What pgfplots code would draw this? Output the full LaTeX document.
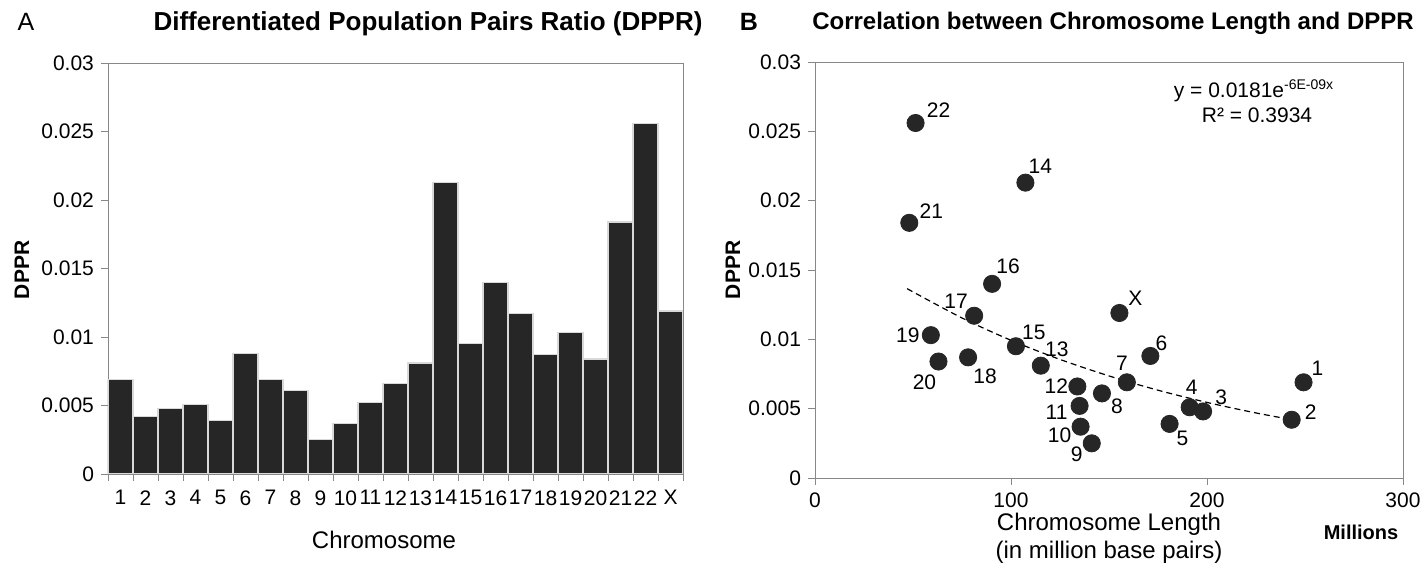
\documentclass[border=0pt]{standalone}
\usepackage{pgfplots}
\pgfplotsset{compat=1.18}
\usepackage{fontspec}
\setmainfont{Liberation Sans}
\definecolor{barfill}{HTML}{262626}
\definecolor{axgray}{HTML}{888888}
\newcommand{\tfont}{\fontsize{10.5}{12}\selectfont}
\begin{document}
\begin{tikzpicture}
\path[use as bounding box] (0,0) rectangle (712pt,282.5pt);
% ---------------- Panel A ----------------
\begin{axis}[
  at={(54pt,45.5pt)}, anchor=south west,
  width=287.5pt, height=205.5pt, scale only axis,
  xmin=0.5, xmax=23.5, ymin=0, ymax=0.03,
  xtick={1,...,23},
  xticklabels={1,2,3,4,5,6,7,8,9,10,11,12,13,14,15,16,17,18,19,20,21,22,X},
  minor xtick={0.5,1.5,...,23.5},
  major x tick style={draw=none},
  ytick={0,0.005,0.01,0.015,0.02,0.025,0.03},
  yticklabels={0,0.005,0.01,0.015,0.02,0.025,0.03},
  xtick pos=bottom, ytick pos=left,
  tick align=outside,
  major tick length=3.5pt, minor tick length=3.5pt,
  axis line style={draw=axgray},
  tick style={draw=axgray},
  minor tick style={draw=axgray},
  tick label style={font=\tfont, text=black},
  xticklabel style={inner sep=0pt, yshift=-4.5pt},
  scaled y ticks=false,
  ybar, bar width=12.5pt,
]
\addplot[fill=barfill, draw=white!85!black, line width=0.6pt] coordinates {
(1,0.0069) (2,0.0042) (3,0.0048) (4,0.0051) (5,0.0039) (6,0.0088)
(7,0.0069) (8,0.0061) (9,0.0025) (10,0.0037) (11,0.0052) (12,0.0066)
(13,0.0081) (14,0.0213) (15,0.0095) (16,0.0140) (17,0.0117) (18,0.0087)
(19,0.0103) (20,0.0084) (21,0.0184) (22,0.0256) (23,0.0119)};
\end{axis}
% ---------------- Panel B ----------------
\begin{axis}[
  at={(407.5pt,43.5pt)}, anchor=south west,
  width=294pt, height=208pt, scale only axis,
  xmin=0, xmax=300, ymin=0, ymax=0.03,
  xtick={0,100,200,300}, xticklabels={0,100,200,300},
  ytick={0,0.005,0.01,0.015,0.02,0.025,0.03},
  yticklabels={0,0.005,0.01,0.015,0.02,0.025,0.03},
  xtick pos=bottom, ytick pos=left,
  tick align=outside, major tick length=3.5pt,
  axis line style={draw=axgray},
  tick style={draw=axgray},
  tick label style={font=\tfont, text=black},
  xticklabel style={inner sep=0pt, yshift=-3.5pt},
  scaled y ticks=false, scaled x ticks=false,
  clip=false,
]
\addplot[black, densely dashed, line width=0.6pt, smooth] coordinates {
(47,0.01365) (75,0.01154) (100,0.00993) (125,0.00855) (150,0.00736)
(175,0.00633) (200,0.00545) (225,0.00469) (249,0.00406)};
\addplot[only marks, mark=*, mark size=4.3pt, mark options={fill=barfill, draw=barfill}] coordinates {
(249.25,0.0069) (243.2,0.0042) (198.0,0.0048) (191.15,0.0051) (180.9,0.0039)
(171.1,0.0088) (159.1,0.0069) (146.4,0.0061) (141.2,0.0025) (135.5,0.0037)
(135.0,0.0052) (133.85,0.0066) (115.2,0.0081) (107.35,0.0213) (102.5,0.0095)
(90.35,0.0140) (81.2,0.0117) (78.1,0.0087) (59.1,0.0103) (63.0,0.0084)
(48.1,0.0184) (51.3,0.0256) (155.3,0.0119)};
\node[font=\tfont, xshift=7pt, yshift=7pt] at (axis cs:249.25,0.0069) {1};
\node[font=\tfont, xshift=9.5pt, yshift=4pt] at (axis cs:243.2,0.0042) {2};
\node[font=\tfont, xshift=9pt, yshift=7pt] at (axis cs:198.0,0.0048) {3};
\node[font=\tfont, xshift=1pt, yshift=10pt] at (axis cs:191.15,0.0051) {4};
\node[font=\tfont, xshift=6.5pt, yshift=-7pt] at (axis cs:180.9,0.0039) {5};
\node[font=\tfont, xshift=5.5pt, yshift=6.5pt] at (axis cs:171.1,0.0088) {6};
\node[font=\tfont, xshift=-2.5pt, yshift=9.5pt] at (axis cs:159.1,0.0069) {7};
\node[font=\tfont, xshift=7.5pt, yshift=-6.5pt] at (axis cs:146.4,0.0061) {8};
\node[font=\tfont, xshift=-7.5pt, yshift=-5.5pt] at (axis cs:141.2,0.0025) {9};
\node[font=\tfont, xshift=-10.5pt, yshift=-4.5pt] at (axis cs:135.5,0.0037) {10};
\node[font=\tfont, xshift=-11.5pt, yshift=-3pt] at (axis cs:135.0,0.0052) {11};
\node[font=\tfont, xshift=-10.5pt, yshift=0pt] at (axis cs:133.85,0.0066) {12};
\node[font=\tfont, xshift=8pt, yshift=8pt] at (axis cs:115.2,0.0081) {13};
\node[font=\tfont, xshift=7.5pt, yshift=8pt] at (axis cs:107.35,0.0213) {14};
\node[font=\tfont, xshift=9pt, yshift=7pt] at (axis cs:102.5,0.0095) {15};
\node[font=\tfont, xshift=8pt, yshift=9pt] at (axis cs:90.35,0.0140) {16};
\node[font=\tfont, xshift=-9pt, yshift=7pt] at (axis cs:81.2,0.0117) {17};
\node[font=\tfont, xshift=8.5pt, yshift=-9.5pt] at (axis cs:78.1,0.0087) {18};
\node[font=\tfont, xshift=-11.5pt, yshift=0pt] at (axis cs:59.1,0.0103) {19};
\node[font=\tfont, xshift=-7pt, yshift=-10.5pt] at (axis cs:63.0,0.0084) {20};
\node[font=\tfont, xshift=11pt, yshift=6pt] at (axis cs:48.1,0.0184) {21};
\node[font=\tfont, xshift=11.5pt, yshift=6.5pt] at (axis cs:51.3,0.0256) {22};
\node[font=\tfont, xshift=8pt, yshift=7.5pt] at (axis cs:155.3,0.0119) {X};
\end{axis}
% ---------------- titles and labels ----------------
\node[anchor=base, font=\fontsize{12.5}{14}\selectfont] at (13pt,267pt) {A};
\node[anchor=base, font=\fontsize{13}{15}\selectfont\bfseries] at (214pt,267pt) {Differentiated Population Pairs Ratio (DPPR)};
\node[anchor=base, font=\fontsize{12.5}{14}\selectfont\bfseries] at (374.5pt,267pt) {B};
\node[anchor=base, font=\fontsize{12}{14}\selectfont\bfseries] at (556.5pt,267.5pt) {Correlation between Chromosome Length and DPPR};
\node[rotate=90, font=\fontsize{10.5}{12}\selectfont\bfseries] at (11pt,147.5pt) {DPPR};
\node[rotate=90, font=\fontsize{10.5}{12}\selectfont\bfseries] at (366.5pt,147.5pt) {DPPR};
\node[inner sep=0pt, font=\fontsize{12}{14}\selectfont] at (192pt,12.5pt) {Chromosome};
\node[inner sep=0pt, font=\fontsize{12}{14}\selectfont] at (554.5pt,20.5pt) {Chromosome Length};
\node[inner sep=0pt, font=\fontsize{12}{14}\selectfont] at (554.5pt,6.5pt) {(in million base pairs)};
\node[inner sep=0pt, font=\fontsize{10}{12}\selectfont\bfseries] at (680.5pt,16.5pt) {Millions};
\node[font=\tfont] at (627pt,237pt) {y = 0.0181e\textsuperscript{\fontsize{7}{8}\selectfont -6E-09x}};
\node[font=\tfont] at (628.5pt,225pt) {R² = 0.3934};
\end{tikzpicture}
\end{document}
